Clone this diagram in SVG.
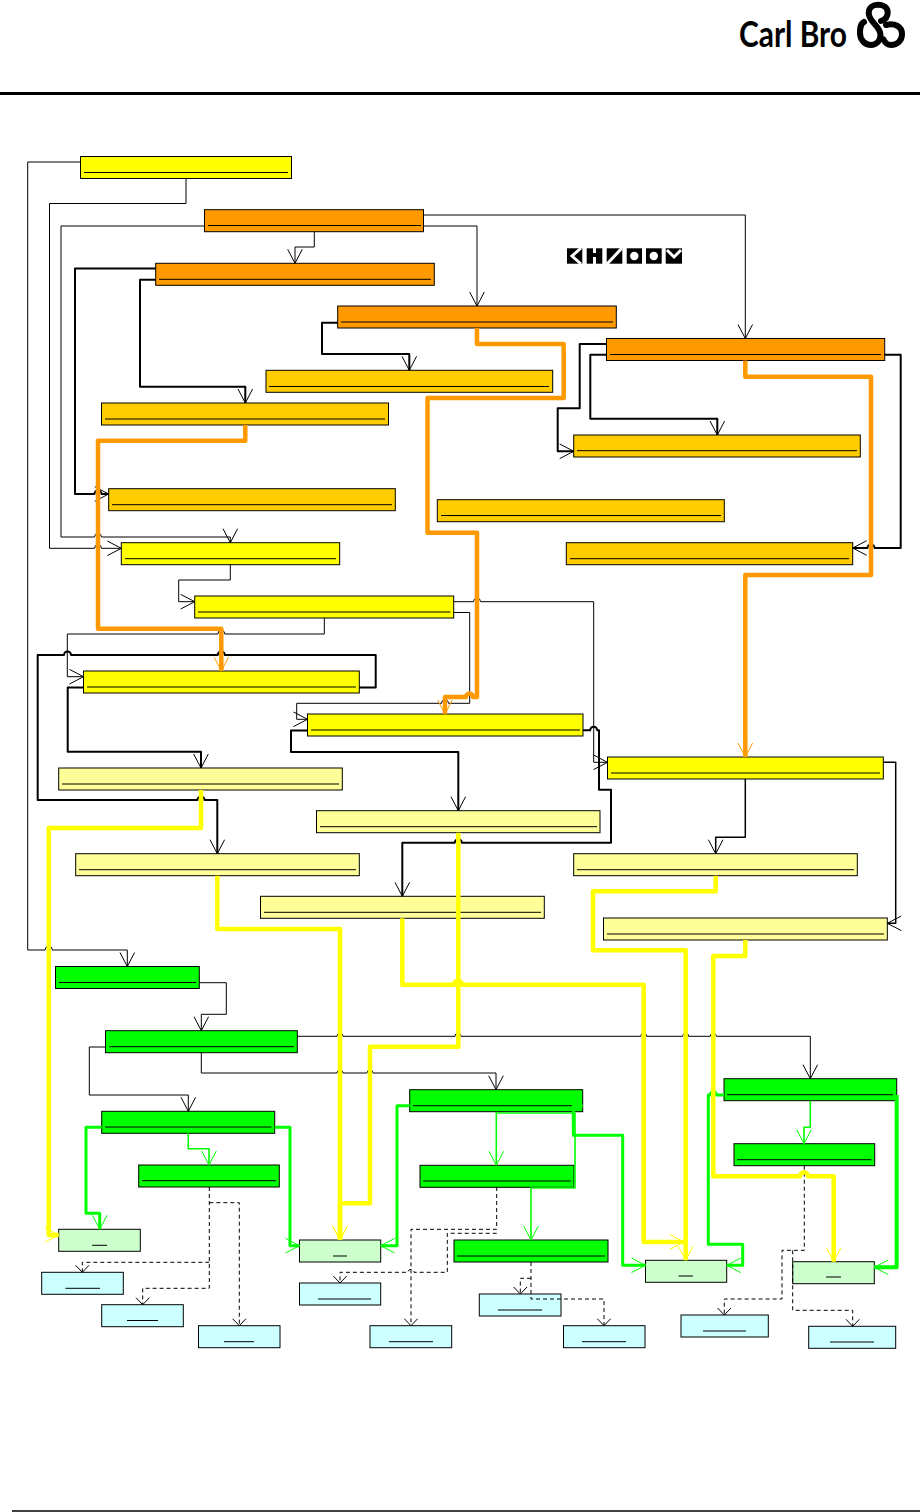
<svg xmlns="http://www.w3.org/2000/svg" width="920" height="1512" viewBox="0 0 920 1512">
<style>
.n{stroke:#000;stroke-width:1}
.u{stroke:#000;stroke-width:1;fill:none}
.y{fill:#ffff00}.o{fill:#ff9900}.g{fill:#ffcc00}.p{fill:#ffff99}.v{fill:#00ff00}.l{fill:#ccffcc}.b{fill:#ccffff}
.c{fill:none;stroke-linejoin:round}
.t1{stroke:#000;stroke-width:1;marker-end:url(#ak)}
.t2{stroke:#000;stroke-width:2;marker-end:url(#ak)}
.t3{stroke:#000;stroke-width:1.500;marker-end:url(#ak)}
.d{stroke:#000;stroke-width:1;stroke-dasharray:4 3;marker-end:url(#ad)}
.or{stroke:#ff9900;stroke-width:4.500;marker-end:url(#ao)}
.ye{stroke:#ffff00;stroke-width:4.500;marker-end:url(#ay)}
.gr{stroke:#00ff00;stroke-width:3;marker-end:url(#ag)}
.gt{stroke:#00ff00;stroke-width:1.600;marker-end:url(#ag)}
.logo{font-family:"Lato","Open Sans",sans-serif;font-weight:700;font-size:36px;fill:#000}
</style>
<defs>
<marker id="ak" markerUnits="userSpaceOnUse" markerWidth="20" markerHeight="20" refX="15" refY="10" orient="auto"><path d="M1 2.700L15 10L1 17.300" fill="none" stroke="#000"/></marker>
<marker id="ao" markerUnits="userSpaceOnUse" markerWidth="20" markerHeight="20" refX="15" refY="10" orient="auto"><path d="M1 2.700L15 10L1 17.300" fill="none" stroke="#ff9900"/></marker>
<marker id="ay" markerUnits="userSpaceOnUse" markerWidth="20" markerHeight="20" refX="15" refY="10" orient="auto"><path d="M1 2.700L15 10L1 17.300" fill="none" stroke="#ffff00"/></marker>
<marker id="ag" markerUnits="userSpaceOnUse" markerWidth="20" markerHeight="20" refX="15" refY="10" orient="auto"><path d="M1 2.700L15 10L1 17.300" fill="none" stroke="#00ff00"/></marker>
<marker id="ad" markerUnits="userSpaceOnUse" markerWidth="14" markerHeight="16" refX="8" refY="8" orient="auto"><path d="M1 1.300L8 8L1 14.700" fill="none" stroke="#000"/></marker>
</defs>
<rect width="920" height="1512" fill="#fff"/>

<g id="header">
<text class="logo" x="739" y="47" textLength="108" lengthAdjust="spacingAndGlyphs">Carl Bro</text>
<g fill="none" stroke="#000" stroke-width="6" stroke-linecap="round">
<path d="M864 22C860 24 860 29 860 33C860 40 865 45 871 45C877 45 880.500 40 880.500 35C880.500 26 868.700 22 868.700 13C868.700 7.500 873 4.700 878 4.700C884 4.700 887.700 8 887.700 12.500C887.700 18 884 20 881 21"/>
<path d="M886 25C895 22.500 902 27 902 34C902 41 897 45 891 45C888 45 885 42.500 883.500 39.500"/>
</g>
<line x1="0" y1="93.500" x2="920" y2="93.500" stroke="#000" stroke-width="3"/>
<line x1="12" y1="1511" x2="920" y2="1511" stroke="#000" stroke-width="1.500"/>
</g>

<g id="legend-mark">
<rect x="567" y="248.300" width="15.300" height="15.400"/>
<path d="M581 248L572 256L581 264" fill="none" stroke="#fff" stroke-width="3"/>
<rect x="586.700" y="248.300" width="15.600" height="15.400"/>
<rect x="593" y="248" width="3" height="5" fill="#fff"/><rect x="593" y="257" width="3" height="7" fill="#fff"/>
<rect x="606.700" y="248.300" width="15.600" height="15.400"/>
<path d="M607 264L622 248" stroke="#fff" stroke-width="3"/>
<rect x="626.700" y="248.300" width="15.300" height="15.400"/><circle cx="634.300" cy="256" r="4.200" fill="#fff"/>
<rect x="646" y="248.300" width="15.700" height="15.400"/><circle cx="653.800" cy="256" r="4.200" fill="#fff"/>
<rect x="665.700" y="248.300" width="16.300" height="15.400"/>
<path d="M667 250L674 257L681 250" fill="none" stroke="#fff" stroke-width="3"/>
</g>

<g id="nodes">
<g id="n1"><rect class="n y" x="80.500" y="156.500" width="211" height="22"/><path class="u" d="M84 172.500H288"/></g>
<g id="n2"><rect class="n o" x="204.500" y="209.700" width="219" height="22"/><path class="u" d="M208 225.500H421"/></g>
<g id="n3"><rect class="n o" x="155.700" y="263.300" width="278.600" height="22"/><path class="u" d="M159 279.300H431"/></g>
<g id="n4"><rect class="n o" x="337.700" y="306" width="278.600" height="22"/><path class="u" d="M341 322H613"/></g>
<g id="n5"><rect class="n g" x="266" y="370.300" width="286.700" height="22"/><path class="u" d="M269 386.500H549"/></g>
<g id="n6"><rect class="n g" x="101.500" y="403" width="287" height="22"/><path class="u" d="M105 419H385"/></g>
<g id="n7"><rect class="n g" x="108.700" y="488.700" width="286.600" height="22"/><path class="u" d="M112 504.700H392"/></g>
<g id="n8"><rect class="n y" x="121.300" y="542.700" width="218.400" height="22"/><path class="u" d="M125 558.700H336"/></g>
<g id="n9"><rect class="n g" x="437.300" y="499.700" width="287" height="22"/><path class="u" d="M441 515.500H721"/></g>
<g id="n10"><rect class="n o" x="606.500" y="338.500" width="278.200" height="22"/><path class="u" d="M610 354.500H881"/></g>
<g id="n11"><rect class="n g" x="573.700" y="435" width="286.600" height="22"/><path class="u" d="M577 450.700H857"/></g>
<g id="n12"><rect class="n g" x="566.300" y="542.700" width="286.400" height="22"/><path class="u" d="M570 558.700H849"/></g>
<g id="n13"><rect class="n y" x="194.700" y="596" width="259" height="22"/><path class="u" d="M198 612H450.500"/></g>
<g id="n14"><rect class="n y" x="83.500" y="671" width="275.800" height="22"/><path class="u" d="M87 687H356"/></g>
<g id="n15"><rect class="n y" x="307.500" y="714" width="275.500" height="22"/><path class="u" d="M311 730H580"/></g>
<g id="n16"><rect class="n p" x="58.700" y="768" width="283.600" height="22"/><path class="u" d="M62 784H339"/></g>
<g id="n17"><rect class="n p" x="316.500" y="810.700" width="283.500" height="22"/><path class="u" d="M320 826.700H597"/></g>
<g id="n18"><rect class="n p" x="75.700" y="853.700" width="283.600" height="22"/><path class="u" d="M79 869.700H356"/></g>
<g id="n19"><rect class="n p" x="260.500" y="896.300" width="283.800" height="22"/><path class="u" d="M264 912.300H541"/></g>
<g id="n20"><rect class="n y" x="607.500" y="757" width="275.800" height="22"/><path class="u" d="M611 773H880"/></g>
<g id="n21"><rect class="n p" x="573.700" y="853.700" width="283.600" height="22"/><path class="u" d="M577 869.700H854"/></g>
<g id="n22"><rect class="n p" x="603.500" y="918" width="283.800" height="22"/><path class="u" d="M607 934H884"/></g>
<g id="n23"><rect class="n v" x="55.500" y="966.500" width="143.800" height="22"/><path class="u" d="M59 982.500H196"/></g>
<g id="n24"><rect class="n v" x="105.500" y="1030.700" width="191.800" height="22"/><path class="u" d="M109 1046.700H294"/></g>
<g id="n25"><rect class="n v" x="101.700" y="1111.300" width="173" height="22"/><path class="u" d="M105 1127H271.500"/></g>
<g id="n26"><rect class="n v" x="138.700" y="1165" width="140.600" height="22"/><path class="u" d="M142 1180.700H276"/></g>
<g id="n27"><rect class="n l" x="58.700" y="1229.300" width="81.600" height="22"/><path class="u" d="M92 1245.300H107"/></g>
<g id="n28"><rect class="n b" x="41.700" y="1272.300" width="81.600" height="22"/><path class="u" d="M65.500 1288.300H100"/></g>
<g id="n29"><rect class="n b" x="101.700" y="1304.700" width="81.600" height="22"/><path class="u" d="M127 1320.500H158"/></g>
<g id="n30"><rect class="n b" x="198.500" y="1325.700" width="81.500" height="22"/><path class="u" d="M224 1341.700H254"/></g>
<g id="n31"><rect class="n l" x="299.500" y="1240" width="81.200" height="22"/><path class="u" d="M333 1256H347"/></g>
<g id="n32"><rect class="n b" x="299.500" y="1283" width="81.200" height="22"/><path class="u" d="M318 1299H371"/></g>
<g id="n33"><rect class="n b" x="370" y="1325.700" width="81.700" height="22"/><path class="u" d="M389 1341.700H433"/></g>
<g id="n34"><rect class="n v" x="409.700" y="1089.700" width="173" height="22"/><path class="u" d="M413 1105.700H572"/></g>
<g id="n35"><rect class="n v" x="420" y="1165.300" width="154" height="22"/><path class="u" d="M423 1181H571"/></g>
<g id="n36"><rect class="n v" x="454" y="1240" width="154" height="22"/><path class="u" d="M457 1256H605"/></g>
<g id="n37"><rect class="n b" x="479.300" y="1294" width="81.700" height="22"/><path class="u" d="M498 1310H542"/></g>
<g id="n38"><rect class="n b" x="563.500" y="1325.700" width="81.500" height="22"/><path class="u" d="M582 1341.700H626"/></g>
<g id="n39"><rect class="n l" x="645.500" y="1260.300" width="81.200" height="22"/><path class="u" d="M678.500 1276H693"/></g>
<g id="n40"><rect class="n v" x="724" y="1078.700" width="172.700" height="22"/><path class="u" d="M727 1094.700H893"/></g>
<g id="n41"><rect class="n v" x="734" y="1143.700" width="140.700" height="22"/><path class="u" d="M737 1159.700H871.500"/></g>
<g id="n42"><rect class="n l" x="792.700" y="1261.700" width="81.600" height="22"/><path class="u" d="M826 1277H841"/></g>
<g id="n43"><rect class="n b" x="681" y="1315" width="87.300" height="22"/><path class="u" d="M703 1331H746"/></g>
<g id="n44"><rect class="n b" x="808.700" y="1326.300" width="87" height="22"/><path class="u" d="M830 1342H874"/></g>
</g>

<g id="connectors" class="c">
<!-- thin -->
<path class="c t1" d="M80.500 162H27.700V950H45a3.700 3.700 0 0 1 7.400 0H127.300V966.500"/>
<path class="c t1" d="M186 178.300V203.500H49.500V548.300H94.500a3.500 3.500 0 0 1 7 0H121.300"/>
<path class="c t1" d="M204.500 226H61V537H94.500a3.500 3.500 0 0 1 7 0H230.300V542.700"/>
<path class="c t1" d="M314.300 231.700V247H295V263.300"/>
<path class="c t1" d="M423.700 226H477V306"/>
<path class="c t1" d="M423.700 215H745.300V338.500"/>
<path class="c t1" d="M230.300 564.700V580H178.700V601.700H194.700"/>
<path class="c t1" d="M324.300 618V634H224.800a3.500 3.500 0 0 0 -7 0H67.300V676.700H83.500"/>
<path class="c t1" d="M453.700 601.700H473.500a3.500 3.500 0 0 1 7 0H593.700V762.300H607.500"/>
<path class="c t1" d="M453.700 612.500H469.700V703.300H448.500a3.500 3.500 0 0 0 -7 0H296.700V719.300H307.500"/>
<path class="c t3" d="M883.300 762.300H895.700V923.300H887.300"/>
<path class="c t1" d="M199.300 982.700H226.300V1014.300H201.300V1030.700"/>
<path class="c t1" d="M297.300 1036.300H337a3 3 0 0 1 6 0H455a3 3 0 0 1 6 0H640.700a3 3 0 0 1 6 0H682.700a3 3 0 0 1 6 0H710.300a3 3 0 0 1 6 0H810.300V1078.700"/>
<path class="c t1" d="M201.300 1052.700V1073H337a3 3 0 0 1 6 0H367a3 3 0 0 1 6 0H496V1089.700"/>
<path class="c t1" d="M105.500 1047H89.300V1095H188.300V1111.300"/>
<!-- medium black -->
<path class="c t2" d="M155.700 268.500H75V494H94.500a3.500 3.500 0 0 1 7 0H108.700"/>
<path class="c t2" d="M155.700 279.700H140V386.700H245.300V403"/>
<path class="c t2" d="M337.700 322.700H322V354H409.300V370.300"/>
<path class="c t2" d="M606.500 344H579.700V408.300H557.700V451.300H573.700"/>
<path class="c t2" d="M606.500 354.700H590.300V418.700H717.300V435"/>
<path class="c t2" d="M884.700 354.700H900.700V548H874.500a3.500 3.500 0 0 0 -7 0H852.700"/>
<path class="c t2" d="M359.300 687.500H375.700V655H224.800a3.500 3.500 0 0 0 -7 0H71a3.500 3.500 0 0 0 -7 0H37.700V800H197.500a3.500 3.500 0 0 1 7 0H217.300V853.700"/>
<path class="c t2" d="M83.500 687.500H67.700V751.700H201V768"/>
<path class="c t2" d="M307.500 730.500H291V752H458.300V810.700"/>
<path class="c t2" d="M583 730.300H590.200a3.500 3.500 0 0 1 7 0H599V789.700H611V842.700H461.800a3.500 3.500 0 0 0 -7 0H402.300V896.300"/>
<path class="c t3" d="M745.300 779V837.300H715.700V853.700"/>
<!-- dashed -->
<path class="c d" d="M209.300 1187V1288.300H142.700V1304.700"/>
<path class="c d" d="M209.300 1262.300H82.300V1272.300"/>
<path class="c d" d="M209.300 1202.700H239.300V1325.700"/>
<path class="c d" d="M496.700 1187V1229.300H411V1325.700"/>
<path class="c d" d="M496.700 1233.300H447.300V1272.300H414a3 3 0 0 0 -6 0H340V1283"/>
<path class="c d" d="M531 1262V1299H604V1325.700"/>
<path class="c d" d="M531 1278.300H520.300V1294"/>
<path class="c d" d="M804.300 1165.700V1250.300H782V1299H724.300V1315"/>
<path class="c d" d="M792.700 1250.300V1310.300H852.700V1326.300"/>
<!-- green -->
<path class="c gr" d="M101.700 1127.300H86V1213.300H99.700V1229.300"/>
<path class="c gr" d="M274.700 1127.300H290V1245.700H299.500"/>
<path class="c gt" d="M188.300 1133.300V1148.700H209V1165"/>
<path class="c gr" d="M409.700 1105.700H397V1245.700H380.700"/>
<path class="c gt" d="M496.300 1111.700V1165.300"/>
<path class="c gr" d="M582.700 1106H573.300V1135.300H622.700V1265.300H645.500"/>
<path class="c gt" d="M496.300 1113H575V1188H531V1240"/>
<path class="c gr" d="M724 1095H716.500a3.200 3.200 0 0 0 -6.400 0H708.300V1244.300H742.700V1265.300H726.700"/>
<path class="c gt" d="M810.300 1100.700V1127.300H804V1143.700"/>
<path class="c gr" style="stroke-width:4" d="M896.700 1095V1267.300H874.300"/>
<!-- orange -->
<path class="c or" d="M477 328V344H563.700V398H427.500V532.700H477V697L473 697a3.500 3.500 0 0 0 -7 0H445V714"/>
<path class="c or" d="M245.300 425V440.700H98V628.700H221.300V671"/>
<path class="c or" d="M745.300 360.500V376.700H871V575H745.300V757"/>
<!-- yellow -->
<path class="c ye" d="M201 790V828H48.700V1235H58.700"/>
<path class="c ye" d="M458.300 832.700V1046.700H370V1203.300H340V1240"/>
<path class="c ye" d="M217.300 875.700V929H340V1240"/>
<path class="c ye" d="M402.300 918.300V984.700H454a4 4 0 0 1 8 0H643.700V1242H684"/>
<path class="c ye" d="M715.700 875.700V891.300H593V950.300H685.700V1260.300"/>
<path class="c ye" d="M745.300 940V956H713.300V1176.300H800a4 4 0 0 1 8 0H833.700V1261.700"/>
</g>
</svg>
